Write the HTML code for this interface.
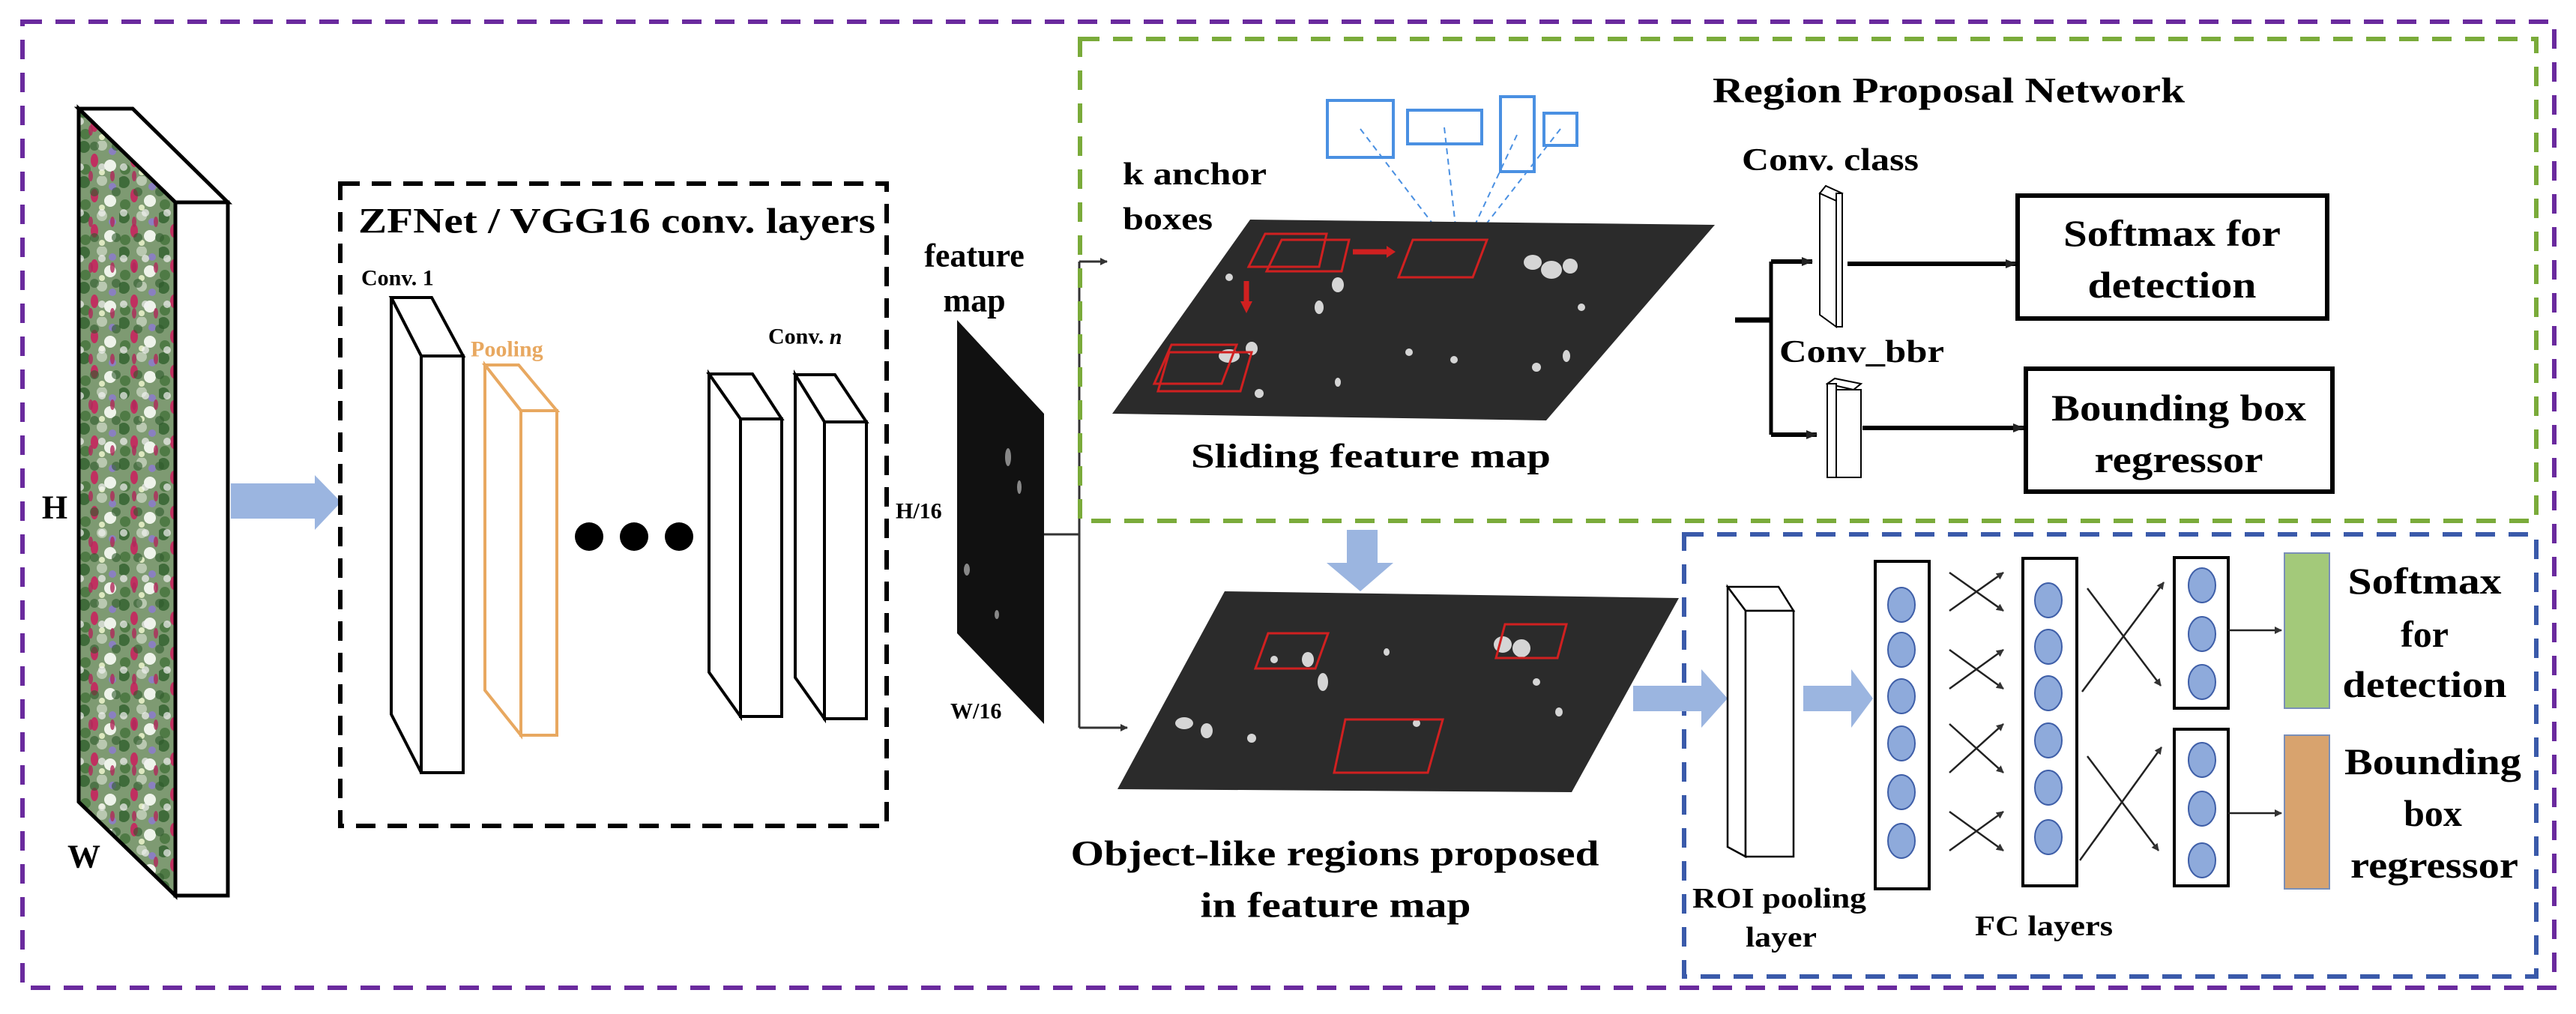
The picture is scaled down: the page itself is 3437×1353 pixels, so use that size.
<!DOCTYPE html>
<html><head><meta charset="utf-8"><style>html,body{margin:0;padding:0;background:#fff}svg{display:block}</style></head>
<body>
<svg width="3437" height="1353" viewBox="0 0 3437 1353" xmlns="http://www.w3.org/2000/svg" font-family="'Liberation Serif', serif" font-weight="bold">
<defs>
<pattern id="leaf" width="53" height="47" patternUnits="userSpaceOnUse">
<rect width="53" height="47" fill="#7e9a72"/>
<circle cx="6" cy="8" r="8" fill="#3f6b3a"/>
<circle cx="30" cy="6" r="7" fill="#b9c8b0"/>
<ellipse cx="20" cy="26" rx="5" ry="9" fill="#c03060"/>
<circle cx="41" cy="33" r="8" fill="#eef3ea"/>
<circle cx="8" cy="38" r="7" fill="#4f7a45"/>
<circle cx="44" cy="14" r="5" fill="#8a80c0"/>
<circle cx="30" cy="42" r="4" fill="#dde8c0"/>
</pattern>
<pattern id="leaf2" width="29" height="61" patternUnits="userSpaceOnUse">
<circle cx="10" cy="12" r="6" fill="#2f5a2c" opacity="0.6"/>
<circle cx="20" cy="40" r="5" fill="#f2f2f2" opacity="0.7"/>
<ellipse cx="5" cy="52" rx="3" ry="7" fill="#b0285a" opacity="0.8"/>
</pattern>
<marker id="ah" markerWidth="10" markerHeight="10" refX="9" refY="5" orient="auto" markerUnits="userSpaceOnUse"><path d="M0,0 L10,5 L0,10 z" fill="#333"/></marker>
<marker id="ahs" markerWidth="16" markerHeight="16" refX="14" refY="8" orient="auto" markerUnits="userSpaceOnUse"><path d="M0,2 L15,8 L0,14 z" fill="#222"/></marker>
</defs>

<rect x="30" y="29" width="3378" height="1289" fill="none" stroke="#6a2a9e" stroke-width="6" stroke-dasharray="26 18"/>

<polygon points="105,145 177,145 304,270 234,270" fill="#fff" stroke="#000" stroke-width="5"/>
<polygon points="105,145 234,270 234,1195 105,1070" fill="url(#leaf)"/>
<polygon points="105,145 234,270 234,1195 105,1070" fill="url(#leaf2)" stroke="#000" stroke-width="5"/>
<rect x="234" y="270" width="70" height="925" fill="#fff" stroke="#000" stroke-width="5"/>
<text x="73" y="677" font-size="44" dominant-baseline="central" text-anchor="middle">H</text>
<text x="112" y="1143" font-size="44" dominant-baseline="central" text-anchor="middle">W</text>

<polygon points="308,645 420,645 420,634 455,670 420,707 420,692 308,692" fill="#9bb5e0"/>

<rect x="454" y="245" width="729" height="857" fill="none" stroke="#000" stroke-width="6" stroke-dasharray="26 16"/>
<text x="478" y="295" font-size="48" dominant-baseline="central" textLength="690" lengthAdjust="spacingAndGlyphs">ZFNet / VGG16 conv. layers</text>
<text x="482" y="371" font-size="30" dominant-baseline="central">Conv. 1</text>
<text x="628" y="466" font-size="30" fill="#e8a860" dominant-baseline="central">Pooling</text>
<text x="1025" y="449" font-size="30" dominant-baseline="central">Conv. <tspan font-style="italic">n</tspan></text>

<g fill="#fff" stroke="#000" stroke-width="4">
<polygon points="522,397 576,397 618,475 562,475"/><polygon points="522,397 562,475 562,1031 522,953"/><rect x="562" y="475" width="56" height="556"/>
<polygon points="946,499 1004,499 1043,559 988,559"/><polygon points="946,499 988,559 988,956 946,897"/><rect x="988" y="559" width="55" height="397"/>
<polygon points="1061,500 1114,500 1156,563 1100,563"/><polygon points="1061,500 1100,563 1100,959 1061,904"/><rect x="1100" y="563" width="56" height="396"/>
</g>
<g fill="#fff" stroke="#e8a860" stroke-width="4">
<polygon points="647,487 692,487 743,548 695,548"/><polygon points="647,487 695,548 695,981 647,921"/><rect x="695" y="548" width="48" height="433"/>
</g>
<circle cx="786" cy="716" r="19"/><circle cx="846" cy="716" r="19"/><circle cx="906" cy="716" r="19"/>

<text x="1300" y="341" font-size="44" dominant-baseline="central" text-anchor="middle">feature</text>
<text x="1300" y="401" font-size="44" dominant-baseline="central" text-anchor="middle">map</text>
<text x="1195" y="682" font-size="30" dominant-baseline="central">H/16</text>
<text x="1268" y="949" font-size="30" dominant-baseline="central">W/16</text>
<polygon points="1277,427 1393,552 1393,966 1277,845" fill="#111"/>
<g fill="#888"><ellipse cx="1345" cy="610" rx="4" ry="12"/><ellipse cx="1360" cy="650" rx="3" ry="9"/><ellipse cx="1290" cy="760" rx="4" ry="8"/><ellipse cx="1330" cy="820" rx="3" ry="6"/></g>

<polyline points="1393,713 1440,713" fill="none" stroke="#333" stroke-width="3"/>
<line x1="1440" y1="349" x2="1440" y2="971" stroke="#333" stroke-width="3"/>
<line x1="1440" y1="349" x2="1477" y2="349" stroke="#333" stroke-width="3" marker-end="url(#ah)"/>
<line x1="1440" y1="971" x2="1504" y2="971" stroke="#333" stroke-width="3" marker-end="url(#ah)"/>

<rect x="1441" y="52" width="1943" height="643" fill="none" stroke="#7aab3a" stroke-width="6" stroke-dasharray="26 18"/>
<text x="2285" y="121" font-size="48" dominant-baseline="central" textLength="630" lengthAdjust="spacingAndGlyphs">Region Proposal Network</text>
<text x="1498" y="233" font-size="42" dominant-baseline="central" textLength="192" lengthAdjust="spacingAndGlyphs">k anchor</text>
<text x="1498" y="293" font-size="42" dominant-baseline="central" textLength="120" lengthAdjust="spacingAndGlyphs">boxes</text>

<g fill="none" stroke="#4a90e2" stroke-width="4">
<rect x="1771" y="134" width="88" height="76"/><rect x="1878" y="147" width="99" height="45"/><rect x="2002" y="129" width="45" height="100"/><rect x="2060" y="151" width="44" height="43"/>
</g>
<g stroke="#4a90e2" stroke-width="2" stroke-dasharray="8 6">
<line x1="1815" y1="172" x2="1947" y2="345"/><line x1="1927" y1="170" x2="1947" y2="345"/><line x1="2024" y1="180" x2="1947" y2="345"/><line x1="2082" y1="172" x2="1947" y2="345"/>
</g>

<polygon points="1668,293 2288,300 2063,561 1484,552" fill="#2b2b2b"/>
<g fill="#d5d5d5">
<ellipse cx="2045" cy="350" rx="12" ry="10"/><ellipse cx="2070" cy="360" rx="14" ry="12"/><ellipse cx="2095" cy="355" rx="10" ry="10"/>
<ellipse cx="1785" cy="380" rx="8" ry="10"/><ellipse cx="1760" cy="410" rx="6" ry="9"/><ellipse cx="1640" cy="475" rx="14" ry="9"/><ellipse cx="1670" cy="465" rx="8" ry="9"/>
<ellipse cx="1880" cy="470" rx="5" ry="5"/><ellipse cx="1940" cy="480" rx="5" ry="5"/><ellipse cx="2050" cy="490" rx="6" ry="6"/><ellipse cx="2090" cy="475" rx="5" ry="8"/>
<ellipse cx="1680" cy="525" rx="6" ry="6"/><ellipse cx="1785" cy="510" rx="4" ry="6"/><ellipse cx="1640" cy="370" rx="5" ry="5"/><ellipse cx="2110" cy="410" rx="5" ry="5"/>
</g>
<g fill="none" stroke="#d02020" stroke-width="3">
<polygon points="1688,312 1770,312 1760,356 1666,356"/><polygon points="1710,320 1800,320 1790,362 1690,362"/>
<polygon points="1885,320 1984,320 1965,370 1866,370"/>
<polygon points="1563,460 1650,460 1630,512 1540,512"/><polygon points="1560,470 1670,470 1655,522 1545,522"/>
</g>
<line x1="1805" y1="336" x2="1850" y2="336" stroke="#d02020" stroke-width="7"/><polygon points="1850,328 1862,336 1850,344" fill="#d02020"/>
<line x1="1663" y1="375" x2="1663" y2="405" stroke="#d02020" stroke-width="7"/><polygon points="1655,402 1671,402 1663,418" fill="#d02020"/>
<text x="1829" y="608" font-size="46" dominant-baseline="central" text-anchor="middle" textLength="480" lengthAdjust="spacingAndGlyphs">Sliding feature map</text>

<text x="2324" y="214" font-size="42" dominant-baseline="central" textLength="236" lengthAdjust="spacingAndGlyphs">Conv. class</text>
<polyline points="2315,427 2363,427" stroke="#000" stroke-width="7" fill="none"/>
<line x1="2363" y1="349" x2="2363" y2="580" stroke="#000" stroke-width="5"/>
<line x1="2363" y1="349" x2="2418" y2="349" stroke="#000" stroke-width="6" marker-end="url(#ahs)"/>
<line x1="2363" y1="580" x2="2424" y2="580" stroke="#000" stroke-width="6" marker-end="url(#ahs)"/>
<g fill="#fff" stroke="#000" stroke-width="2">
<polygon points="2428,258 2436,248 2458,258 2450,268"/><polygon points="2428,258 2450,268 2450,436 2428,420"/><rect x="2450" y="258" width="8" height="178"/>
<polygon points="2438,512 2448,505 2483,512 2473,520"/><rect x="2438" y="512" width="12" height="125"/><rect x="2450" y="520" width="33" height="117"/>
</g>
<line x1="2465" y1="352" x2="2690" y2="352" stroke="#000" stroke-width="6" marker-end="url(#ahs)"/>
<line x1="2485" y1="571" x2="2700" y2="571" stroke="#000" stroke-width="6" marker-end="url(#ahs)"/>
<rect x="2692" y="261" width="413" height="164" fill="#fff" stroke="#000" stroke-width="6"/>
<text x="2898" y="311" font-size="50" dominant-baseline="central" text-anchor="middle" textLength="290" lengthAdjust="spacingAndGlyphs">Softmax for</text>
<text x="2898" y="380" font-size="50" dominant-baseline="central" text-anchor="middle" textLength="225" lengthAdjust="spacingAndGlyphs">detection</text>
<text x="2374" y="470" font-size="42" dominant-baseline="central" textLength="220" lengthAdjust="spacingAndGlyphs">Conv_bbr</text>
<rect x="2703" y="492" width="409" height="164" fill="#fff" stroke="#000" stroke-width="6"/>
<text x="2907" y="544" font-size="50" dominant-baseline="central" text-anchor="middle" textLength="340" lengthAdjust="spacingAndGlyphs">Bounding box</text>
<text x="2907" y="613" font-size="50" dominant-baseline="central" text-anchor="middle" textLength="225" lengthAdjust="spacingAndGlyphs">regressor</text>

<polygon points="1797,707 1838,707 1838,751 1859,751 1815,789 1770,751 1797,751" fill="#9bb5e0"/>

<polygon points="1634,789 2240,798 2097,1057 1491,1053" fill="#2b2b2b"/>
<g fill="#d5d5d5">
<ellipse cx="2005" cy="860" rx="12" ry="11"/><ellipse cx="2030" cy="865" rx="12" ry="12"/><ellipse cx="1745" cy="880" rx="8" ry="10"/><ellipse cx="1765" cy="910" rx="7" ry="12"/>
<ellipse cx="1580" cy="965" rx="12" ry="8"/><ellipse cx="1610" cy="975" rx="8" ry="10"/><ellipse cx="1670" cy="985" rx="6" ry="6"/><ellipse cx="1890" cy="965" rx="5" ry="5"/>
<ellipse cx="1850" cy="870" rx="4" ry="5"/><ellipse cx="2050" cy="910" rx="5" ry="5"/><ellipse cx="2080" cy="950" rx="5" ry="6"/><ellipse cx="1700" cy="880" rx="5" ry="5"/>
</g>
<g fill="none" stroke="#d02020" stroke-width="3">
<polygon points="1692,845 1772,845 1755,892 1675,892"/><polygon points="2008,833 2090,833 2078,878 1996,878"/><polygon points="1795,960 1925,960 1905,1031 1780,1031"/>
</g>
<text x="1781" y="1139" font-size="48" dominant-baseline="central" text-anchor="middle" textLength="705" lengthAdjust="spacingAndGlyphs">Object-like regions proposed</text>
<text x="1782" y="1208" font-size="48" dominant-baseline="central" text-anchor="middle" textLength="361" lengthAdjust="spacingAndGlyphs">in feature map</text>

<rect x="2247" y="713" width="1137" height="590" fill="none" stroke="#3a5aaa" stroke-width="6" stroke-dasharray="26 18"/>
<polygon points="2179,915 2270,915 2270,893 2305,932 2270,971 2270,949 2179,949" fill="#9bb5e0"/>
<polygon points="2406,915 2470,915 2470,893 2499,932 2470,971 2470,949 2406,949" fill="#9bb5e0"/>

<g fill="#fff" stroke="#000" stroke-width="2.5">
<polygon points="2305,783 2373,783 2393,815 2329,815"/><polygon points="2305,783 2329,815 2329,1143 2305,1130"/><rect x="2329" y="815" width="64" height="328"/>
</g>
<text x="2258" y="1199" font-size="38" dominant-baseline="central" textLength="232" lengthAdjust="spacingAndGlyphs">ROI pooling</text>
<text x="2329" y="1251" font-size="38" dominant-baseline="central" textLength="95" lengthAdjust="spacingAndGlyphs">layer</text>

<g fill="#fff" stroke="#000" stroke-width="4">
<rect x="2502" y="749" width="72" height="437"/><rect x="2699" y="745" width="72" height="437"/>
<rect x="2901" y="744" width="72" height="201"/><rect x="2901" y="973" width="72" height="209"/>
</g>
<g fill="#8eaadb" stroke="#3f5fa8" stroke-width="2">
<ellipse cx="2537" cy="807" rx="18" ry="23"/><ellipse cx="2537" cy="867" rx="18" ry="23"/><ellipse cx="2537" cy="929" rx="18" ry="23"/><ellipse cx="2537" cy="992" rx="18" ry="23"/><ellipse cx="2537" cy="1057" rx="18" ry="23"/><ellipse cx="2537" cy="1122" rx="18" ry="23"/>
<ellipse cx="2733" cy="801" rx="18" ry="23"/><ellipse cx="2733" cy="863" rx="18" ry="23"/><ellipse cx="2733" cy="925" rx="18" ry="23"/><ellipse cx="2733" cy="988" rx="18" ry="23"/><ellipse cx="2733" cy="1051" rx="18" ry="23"/><ellipse cx="2733" cy="1117" rx="18" ry="23"/>
<ellipse cx="2938" cy="781" rx="18" ry="23"/><ellipse cx="2938" cy="846" rx="18" ry="23"/><ellipse cx="2938" cy="910" rx="18" ry="23"/>
<ellipse cx="2938" cy="1014" rx="18" ry="23"/><ellipse cx="2938" cy="1079" rx="18" ry="23"/><ellipse cx="2938" cy="1148" rx="18" ry="23"/>
</g>
<g stroke="#222" stroke-width="2.5" marker-end="url(#ah)">
<line x1="2601" y1="815" x2="2673" y2="764"/><line x1="2601" y1="764" x2="2673" y2="815"/>
<line x1="2601" y1="919" x2="2673" y2="867"/><line x1="2601" y1="867" x2="2673" y2="919"/>
<line x1="2601" y1="1031" x2="2673" y2="966"/><line x1="2601" y1="966" x2="2673" y2="1031"/>
<line x1="2601" y1="1135" x2="2673" y2="1083"/><line x1="2601" y1="1083" x2="2673" y2="1135"/>
<line x1="2785" y1="785" x2="2883" y2="915"/><line x1="2778" y1="923" x2="2887" y2="777"/>
<line x1="2785" y1="1009" x2="2880" y2="1135"/><line x1="2775" y1="1148" x2="2884" y2="997"/>
<line x1="2973" y1="841" x2="3044" y2="841"/><line x1="2973" y1="1085" x2="3044" y2="1085"/>
</g>
<text x="2727" y="1236" font-size="38" dominant-baseline="central" text-anchor="middle" textLength="184" lengthAdjust="spacingAndGlyphs">FC layers</text>
<rect x="3048" y="738" width="60" height="207" fill="#a3c97a" stroke="#7a8fb8" stroke-width="2"/>
<rect x="3048" y="981" width="60" height="205" fill="#d8a36e" stroke="#7a8fb8" stroke-width="2"/>
<g font-size="50" dominant-baseline="central" text-anchor="middle">
<text x="3235" y="775" textLength="205" lengthAdjust="spacingAndGlyphs">Softmax</text>
<text x="3235" y="846">for</text>
<text x="3235" y="913" textLength="219" lengthAdjust="spacingAndGlyphs">detection</text>
<text x="3246" y="1016" textLength="236" lengthAdjust="spacingAndGlyphs">Bounding</text>
<text x="3246" y="1085">box</text>
<text x="3248" y="1154" textLength="224" lengthAdjust="spacingAndGlyphs">regressor</text>
</g>
</svg>
</body></html>
